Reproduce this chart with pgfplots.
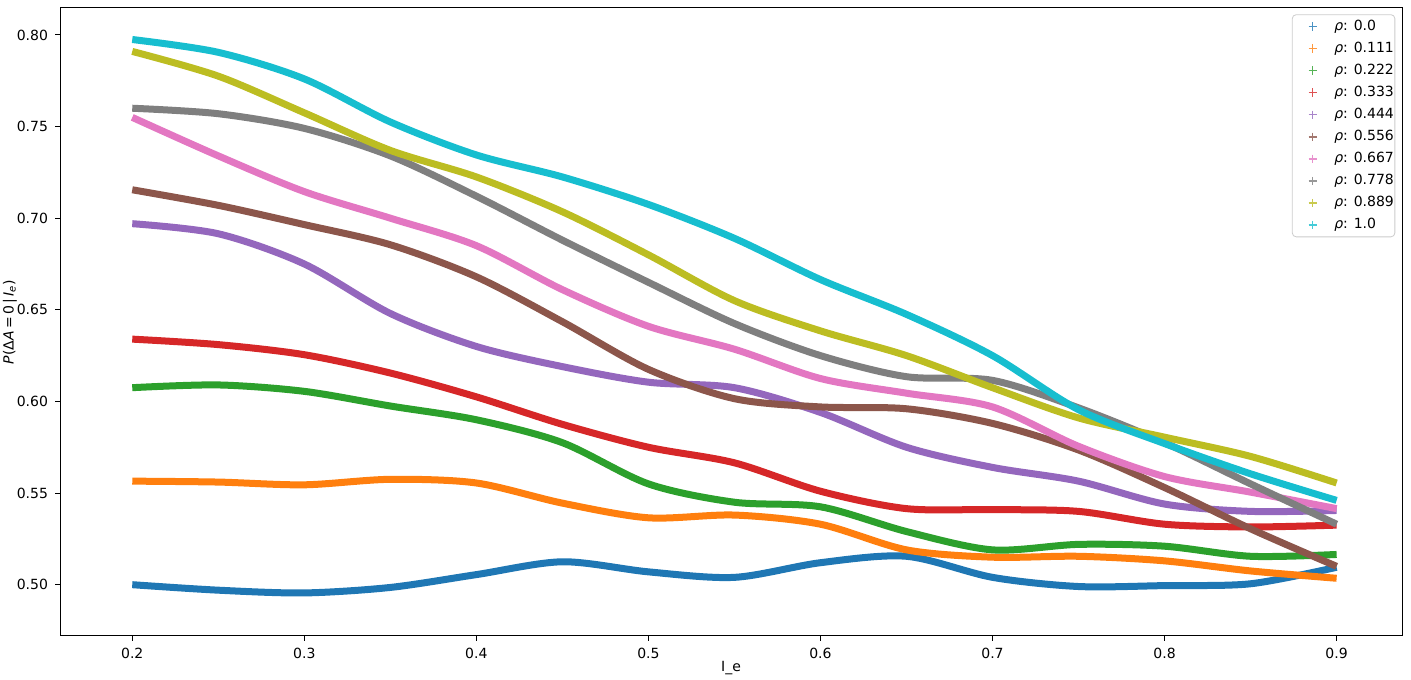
\documentclass[border=0pt]{standalone}
\usepackage{pgfplots}
\usepackage{pgfplotstable}
\pgfplotsset{compat=1.18}
\usepackage{fontspec}
\setmainfont{DejaVu Sans}

\definecolor{c0}{HTML}{1F77B4}
\definecolor{c1}{HTML}{FF7F0E}
\definecolor{c2}{HTML}{2CA02C}
\definecolor{c3}{HTML}{D62728}
\definecolor{c4}{HTML}{9467BD}
\definecolor{c5}{HTML}{8C564B}
\definecolor{c6}{HTML}{E377C2}
\definecolor{c7}{HTML}{7F7F7F}
\definecolor{c8}{HTML}{BCBD22}
\definecolor{c9}{HTML}{17BECF}

\pgfplotstableread{
x     a      b      c      d      e      f      g      h      i      j
0.20  0.5000 0.5565 0.6075 0.6340 0.6970 0.7155 0.7550 0.7600 0.7910 0.7975
0.25  0.4970 0.5560 0.6090 0.6310 0.6915 0.7070 0.7340 0.7570 0.7775 0.7905
0.30  0.4955 0.5545 0.6055 0.6255 0.6750 0.6965 0.7145 0.7490 0.7575 0.7760
0.35  0.4985 0.5575 0.5975 0.6155 0.6480 0.6855 0.7000 0.7340 0.7370 0.7525
0.40  0.5055 0.5555 0.5900 0.6025 0.6300 0.6680 0.6850 0.7120 0.7225 0.7345
0.45  0.5125 0.5445 0.5775 0.5875 0.6190 0.6435 0.6610 0.6880 0.7035 0.7225
0.50  0.5070 0.5365 0.5550 0.5750 0.6105 0.6175 0.6410 0.6650 0.6800 0.7075
0.55  0.5040 0.5380 0.5450 0.5665 0.6075 0.6015 0.6285 0.6425 0.6550 0.6890
0.60  0.5120 0.5330 0.5425 0.5510 0.5940 0.5970 0.6125 0.6250 0.6385 0.6665
0.65  0.5155 0.5190 0.5290 0.5415 0.5750 0.5960 0.6045 0.6135 0.6250 0.6475
0.70  0.5040 0.5150 0.5190 0.5410 0.5640 0.5880 0.5970 0.6115 0.6075 0.6250
0.75  0.4990 0.5155 0.5220 0.5400 0.5565 0.5735 0.5755 0.5965 0.5910 0.5955
0.80  0.4995 0.5130 0.5210 0.5330 0.5440 0.5530 0.5590 0.5775 0.5805 0.5770
0.85  0.5005 0.5075 0.5155 0.5315 0.5400 0.5305 0.5505 0.5550 0.5700 0.5605
0.90  0.5095 0.5035 0.5165 0.5325 0.5405 0.5100 0.5415 0.5330 0.5555 0.5460
}\data

\begin{document}
\begin{tikzpicture}
\begin{axis}[
  scale only axis,
  width=671pt, height=314pt,
  xmin=0.158, xmax=0.938,
  ymin=0.472, ymax=0.8147,
  xtick={0.2,0.3,...,0.9},
  ytick={0.5,0.55,...,0.8},
  tick pos=left,
  tick align=outside,
  major tick length=2.5pt,
  axis line style={line width=0.5pt},
  every tick/.style={black, line width=0.5pt},
  /pgf/number format/assume math mode=true,
  ticklabel style={font=\fontsize{7}{8}\selectfont},
  xticklabel style={/pgf/number format/.cd, fixed, fixed zerofill, precision=1},
  yticklabel style={/pgf/number format/.cd, fixed, fixed zerofill, precision=2},
  xlabel={I\_e},
  ylabel={\textit{P}(Δ\textit{A}\,=\,0\,|\,\textit{I}\textsubscript{\textit{e}})},
  label style={font=\fontsize{7}{8}\selectfont},
  xlabel style={at={(axis description cs:0.5,0)}, anchor=center, yshift=-16pt},
  ylabel style={at={(axis description cs:0,0.5)}, anchor=center, yshift=25pt},
  legend style={at={(axis description cs:0.995,0.99)}, anchor=north east,
    font=\fontsize{7}{8}\selectfont, draw=black!20, rounded corners=2pt,
    row sep=0.35pt, inner xsep=0pt, inner ysep=0.5pt, nodes={inner xsep=0.5pt}},
  legend cell align=left,
  legend image code/.code={\path (0pt,0pt) (17pt,0pt);\draw[#1, line width=0.7pt, mark=+, mark size=2.1pt, mark options={opacity=0.8}] plot coordinates {(8.5pt,0pt)};},
  every axis plot/.append style={line width=3.5pt, smooth, no marks},
]
\addplot[c0] table[x=x,y=a]{\data}; \addlegendentry{\textit{ρ}: 0.0}
\addplot[c1] table[x=x,y=b]{\data}; \addlegendentry{\textit{ρ}: 0.111}
\addplot[c2] table[x=x,y=c]{\data}; \addlegendentry{\textit{ρ}: 0.222}
\addplot[c3] table[x=x,y=d]{\data}; \addlegendentry{\textit{ρ}: 0.333}
\addplot[c4] table[x=x,y=e]{\data}; \addlegendentry{\textit{ρ}: 0.444}
\addplot[c5] table[x=x,y=f]{\data}; \addlegendentry{\textit{ρ}: 0.556}
\addplot[c6] table[x=x,y=g]{\data}; \addlegendentry{\textit{ρ}: 0.667}
\addplot[c7] table[x=x,y=h]{\data}; \addlegendentry{\textit{ρ}: 0.778}
\addplot[c8] table[x=x,y=i]{\data}; \addlegendentry{\textit{ρ}: 0.889}
\addplot[c9] table[x=x,y=j]{\data}; \addlegendentry{\textit{ρ}: 1.0}
\end{axis}
\pgfresetboundingbox
\path ([xshift=-30pt,yshift=-21.5pt]current axis.south west) rectangle ([xshift=4.5pt,yshift=4pt]current axis.north east);
\end{tikzpicture}
\end{document}
